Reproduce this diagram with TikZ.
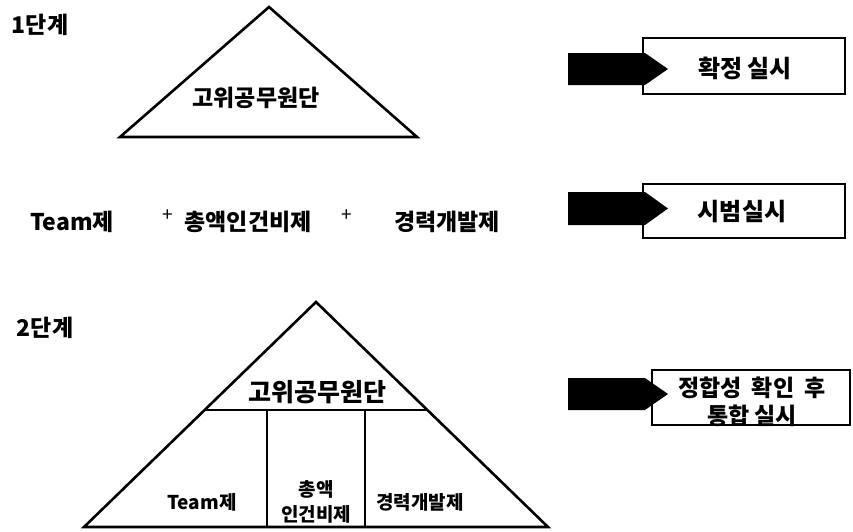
\documentclass[tikz,border=0pt]{standalone}
\usepackage{fontspec}
\newfontfamily\kr{Noto Sans CJK KR}
\begin{document}
\begin{tikzpicture}[x=1pt,y=-1pt,
  tri/.style={draw=black,line width=2.6pt,line join=miter},
  div/.style={draw=black,line width=2.4pt},
  box/.style={draw=black,line width=2.2pt,fill=white},
  blk/.style={fill=black},
  lbl/.style={font=\kr\bfseries\fontsize{23}{26}\selectfont,inner sep=0pt},
  stg/.style={font=\kr\bfseries\fontsize{23}{26}\selectfont,inner sep=0pt},
  sml/.style={font=\kr\bfseries\fontsize{19}{25}\selectfont,inner sep=0pt,align=center},
  pls/.style={font=\kr\fontsize{19}{20}\selectfont,inner sep=0pt}]
\useasboundingbox (0,0) rectangle (853,531);
% stage 1
\node[stg] (s1) at (40,25) {1단계};
\coordinate (a1) at (269,7);
\coordinate (l1) at (120,137);
\coordinate (r1) at (417,137);
\draw[tri] (a1) -- (r1) -- (l1) -- cycle;
\node[lbl] (g1) at (256,98) {고위공무원단};
% middle row
\node[lbl] (m1) at (72,222) {Team제};
\node[pls] (p1) at (168,216) {+};
\node[lbl] (m2) at (248,222) {총액인건비제};
\node[pls] (p2) at (347,216) {+};
\node[lbl] (m3) at (447,222) {경력개발제};
% stage 2
\node[stg] (s2) at (45,328) {2단계};
\coordinate (a2) at (316,302);
\coordinate (l2) at (84,527);
\coordinate (r2) at (548,527);
\coordinate (hl) at (205,410);
\coordinate (hr) at (427,410);
\coordinate (v1t) at (267,410);
\coordinate (v1b) at (267,527);
\coordinate (v2t) at (365,410);
\coordinate (v2b) at (365,527);
\draw[tri] (a2) -- (r2) -- (l2) -- cycle;
\draw[div] (hl) -- (hr);
\draw[div] (v1t) -- (v1b);
\draw[div] (v2t) -- (v2b);
\node[lbl,font=\kr\bfseries\fontsize{25}{26}\selectfont] (g2) at (317,392) {고위공무원단};
\node[sml] (b1) at (202,502) {Team제};
\node[sml] (b2) at (316,502) {총액\\인건비제};
\node[sml] (b3) at (420,502) {경력개발제};
% right boxes
\draw[box] (643,38) rectangle (845,94);
\node[lbl,font=\kr\bfseries\fontsize{24}{26}\selectfont] (x1) at (745,68) {확정 실시};
\draw[box] (643,184) rectangle (845,238);
\node[lbl,font=\kr\bfseries\fontsize{24}{26}\selectfont] (x2) at (742,212) {시범실시};
\draw[box] (652,370) rectangle (850,425);
\node[lbl,font=\kr\bfseries\fontsize{23}{28}\selectfont,align=center] (x3) at (752,402) {정합성\hspace{0.45em}확인\hspace{0.45em}후\\통합 실시};
% block arrows
\foreach \t/\b in {53/85,192/225,378/410}{
  \fill[blk] (568,\t) -- (645,\t) -- (668,{(\t+\b)/2}) -- (645,\b) -- (568,\b) -- cycle;
}
\end{tikzpicture}
\end{document}
